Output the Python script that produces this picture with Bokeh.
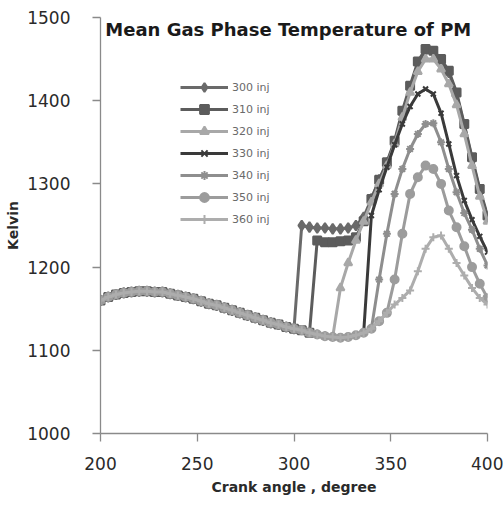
from bokeh.plotting import figure
from bokeh.models import Range1d, Legend, LegendItem, Label, FixedTicker
from bokeh.embed import file_html
from bokeh.resources import INLINE

# ---- data ----
crank_angle = [200, 204, 208, 212, 216, 220, 224, 228, 232, 236, 240, 244, 248,
               252, 256, 260, 264, 268, 272, 276, 280, 284, 288, 292, 296, 300,
               304, 308, 312, 316, 320, 324, 328, 332, 336, 340, 344, 348, 352,
               356, 360, 364, 368, 372, 376, 380, 384, 388, 392, 396, 400]

# shared curve before injection (200 .. 356 deg)
base_temp = [1160, 1164, 1167, 1169, 1170, 1171, 1171, 1170, 1170, 1168, 1166,
             1164, 1162, 1159, 1156, 1154, 1151, 1148, 1145, 1142, 1139, 1136,
             1133, 1131, 1128, 1126, 1124, 1121, 1119, 1117, 1116, 1115, 1116,
             1118, 1121, 1126, 1135, 1145, 1155, 1163]

inj300_start = 304
inj300_tail = [1250, 1248, 1247, 1247, 1246, 1246, 1247, 1250, 1260, 1282, 1305,
               1325, 1350, 1385, 1415, 1445, 1460, 1458, 1448, 1434, 1408, 1370,
               1330, 1292, 1260]
inj310_start = 312
inj310_tail = [1232, 1230, 1230, 1231, 1232, 1236, 1255, 1282, 1305, 1326, 1352,
               1388, 1418, 1447, 1462, 1460, 1450, 1436, 1410, 1372, 1332, 1294,
               1262]
inj320_start = 324
inj320_tail = [1175, 1205, 1232, 1255, 1278, 1300, 1322, 1348, 1380, 1410, 1435,
               1450, 1450, 1438, 1420, 1395, 1360, 1322, 1285, 1255]
inj330_start = 340
inj330_tail = [1262, 1293, 1320, 1347, 1372, 1393, 1408, 1414, 1408, 1385, 1348,
               1310, 1280, 1257, 1237, 1218]
inj340_start = 344
inj340_tail = [1185, 1240, 1288, 1318, 1342, 1360, 1372, 1373, 1350, 1318, 1290,
               1265, 1245, 1222, 1202]
inj350_start = 352
inj350_tail = [1185, 1240, 1288, 1308, 1322, 1318, 1300, 1268, 1248, 1225, 1200,
               1180, 1163]
inj360_start = 360
inj360_tail = [1172, 1195, 1222, 1236, 1238, 1222, 1205, 1190, 1175, 1163, 1155]

series_labels = ["300 inj", "310 inj", "320 inj", "330 inj", "340 inj", "350 inj", "360 inj"]
series_starts = [inj300_start, inj310_start, inj320_start, inj330_start,
                 inj340_start, inj350_start, inj360_start]
series_tails = [inj300_tail, inj310_tail, inj320_tail, inj330_tail,
                inj340_tail, inj350_tail, inj360_tail]
series_colors = ["#6a6a6a", "#5c5c5c", "#a8a8a8", "#3a3a3a", "#8e8e8e", "#9c9c9c", "#adadad"]
series_markers = ["diamond", "square", "triangle", "x", "asterisk", "circle", "cross"]
series_sizes = [10, 8, 8, 7, 8, 8, 8]

x_ticks = [200, 250, 300, 350, 400]
y_ticks = [1000, 1100, 1200, 1300, 1400, 1500]

# ---- figure ----
p = figure(width=503, height=505, output_backend="svg", toolbar_location=None,
           x_range=Range1d(200, 400), y_range=Range1d(1000, 1500),
           min_border_left=100, min_border_right=16, min_border_top=17,
           min_border_bottom=72)
p.outline_line_color = None
p.grid.visible = False
p.background_fill_color = "white"
p.border_fill_color = "white"

for ax, ticks in ((p.xaxis, x_ticks), (p.yaxis, y_ticks)):
    ax.ticker = FixedTicker(ticks=ticks)
    ax.axis_line_color = "#8a8a8a"
    ax.axis_line_width = 1.3
    ax.major_tick_line_color = "#8a8a8a"
    ax.major_tick_line_width = 1.3
    ax.major_tick_in = 0
    ax.major_tick_out = 8
    ax.minor_tick_line_color = None
    ax.major_label_text_font = "DejaVu Sans"
    ax.major_label_text_font_size = "17px"
    ax.major_label_text_color = "#2a2a2a"
    ax.axis_label_text_font = "DejaVu Sans"
    ax.axis_label_text_font_style = "bold"
    ax.axis_label_text_font_size = "14px"
    ax.axis_label_text_color = "#2a2a2a"

p.yaxis.major_label_standoff = 22
p.xaxis.major_label_standoff = 15
p.yaxis.axis_label_standoff = 3
p.xaxis.axis_label_standoff = 6

p.xaxis.axis_label = "Crank angle , degree"
p.yaxis.axis_label = "Kelvin"

items = []
for lab, st, tail, col, mk, sz in zip(series_labels, series_starts, series_tails,
                                      series_colors, series_markers, series_sizes):
    k = crank_angle.index(st)
    ys = base_temp[:k] + tail
    r_line = p.line(crank_angle, ys, line_color=col, line_width=3)
    r_mark = p.scatter(crank_angle, ys, marker=mk, size=sz, fill_color=col,
                       line_color=col, line_width=2)
    items.append(LegendItem(label=lab, renderers=[r_line, r_mark]))

legend = Legend(items=items, location=(80, 203), orientation="vertical",
                glyph_width=48, glyph_height=22, label_height=22, spacing=0,
                padding=0, margin=0, label_standoff=4,
                label_text_font="DejaVu Sans", label_text_font_size="11px",
                label_text_color="#6a6a6a",
                border_line_alpha=0, background_fill_alpha=0)
p.add_layout(legend)

title = Label(x=202.5, y=1486, text="Mean Gas Phase Temperature of PM",
              text_font="DejaVu Sans", text_font_style="bold",
              text_font_size="18px", text_color="#1a1a1a",
              text_baseline="middle", text_align="left")
p.add_layout(title)

open("out.html", "w").write(file_html(p, INLINE))
